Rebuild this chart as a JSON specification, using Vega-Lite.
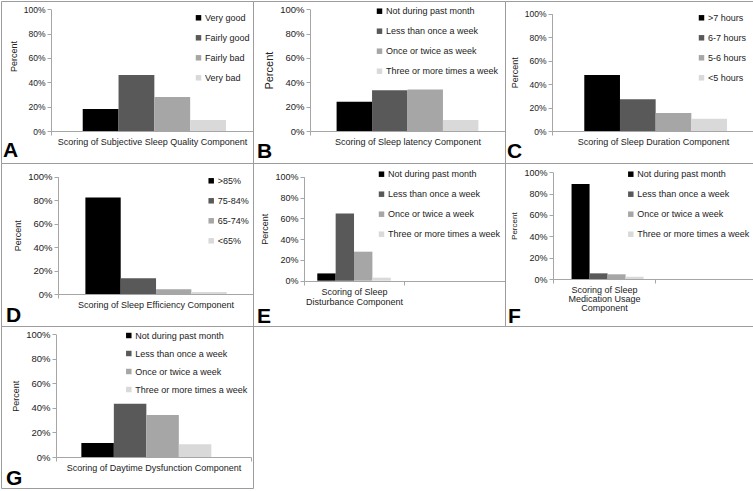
{
  "$schema": "https://vega.github.io/schema/vega-lite/v6.json",
  "padding": 0,
  "spacing": 0,
  "bounds": "flush",
  "columns": 3,
  "background": "white",
  "data": {"values": [
    {"panel": "A", "cat": "Scoring of Subjective Sleep Quality Component", "level": "Very good", "pct": 0.18},
    {"panel": "A", "cat": "Scoring of Subjective Sleep Quality Component", "level": "Fairly good", "pct": 0.46},
    {"panel": "A", "cat": "Scoring of Subjective Sleep Quality Component", "level": "Fairly bad", "pct": 0.28},
    {"panel": "A", "cat": "Scoring of Subjective Sleep Quality Component", "level": "Very bad", "pct": 0.09},
    {"panel": "B", "cat": "Scoring of Sleep latency Component", "level": "Not during past month", "pct": 0.24},
    {"panel": "B", "cat": "Scoring of Sleep latency Component", "level": "Less than once a week", "pct": 0.335},
    {"panel": "B", "cat": "Scoring of Sleep latency Component", "level": "Once or twice as week", "pct": 0.342},
    {"panel": "B", "cat": "Scoring of Sleep latency Component", "level": "Three or more times a week", "pct": 0.09},
    {"panel": "C", "cat": "Scoring of Sleep Duration Component", "level": ">7 hours", "pct": 0.477},
    {"panel": "C", "cat": "Scoring of Sleep Duration Component", "level": "6-7 hours", "pct": 0.27},
    {"panel": "C", "cat": "Scoring of Sleep Duration Component", "level": "5-6 hours", "pct": 0.153},
    {"panel": "C", "cat": "Scoring of Sleep Duration Component", "level": "<5 hours", "pct": 0.105},
    {"panel": "D", "cat": "Scoring of Sleep Efficiency Component", "level": ">85%", "pct": 0.822},
    {"panel": "D", "cat": "Scoring of Sleep Efficiency Component", "level": "75-84%", "pct": 0.134},
    {"panel": "D", "cat": "Scoring of Sleep Efficiency Component", "level": "65-74%", "pct": 0.04},
    {"panel": "D", "cat": "Scoring of Sleep Efficiency Component", "level": "<65%", "pct": 0.017},
    {"panel": "E", "cat": "Scoring of Sleep|Disturbance Component", "level": "Not during past month", "pct": 0.07},
    {"panel": "E", "cat": "Scoring of Sleep|Disturbance Component", "level": "Less than once a week", "pct": 0.647},
    {"panel": "E", "cat": "Scoring of Sleep|Disturbance Component", "level": "Once or twice a week", "pct": 0.279},
    {"panel": "E", "cat": "Scoring of Sleep|Disturbance Component", "level": "Three or more times a week", "pct": 0.029},
    {"panel": "F", "cat": "Scoring of Sleep|Medication Usage|Component", "level": "Not during past month", "pct": 0.89},
    {"panel": "F", "cat": "Scoring of Sleep|Medication Usage|Component", "level": "Less than once a week", "pct": 0.053},
    {"panel": "F", "cat": "Scoring of Sleep|Medication Usage|Component", "level": "Once or twice a week", "pct": 0.044},
    {"panel": "F", "cat": "Scoring of Sleep|Medication Usage|Component", "level": "Three or more times a week", "pct": 0.022},
    {"panel": "G", "cat": "Scoring of Daytime Dysfunction Component", "level": "Not during past month", "pct": 0.114},
    {"panel": "G", "cat": "Scoring of Daytime Dysfunction Component", "level": "Less than once a week", "pct": 0.435},
    {"panel": "G", "cat": "Scoring of Daytime Dysfunction Component", "level": "Once or twice a week", "pct": 0.342},
    {"panel": "G", "cat": "Scoring of Daytime Dysfunction Component", "level": "Three or more times a week", "pct": 0.103}
  ]},
  "resolve": {
    "scale": {"x": "independent", "y": "independent", "color": "independent", "xOffset": "independent"},
    "axis": {"x": "independent", "y": "independent"},
    "legend": {"color": "independent"}
  },
  "concat": [
    {
      "width": 252, "height": 162,
      "transform": [{"filter": "datum.panel == 'A'"}],
      "title": {"text": "A", "orient": "bottom", "anchor": "start", "offset": -6, "dx": 2, "baseline": "alphabetic", "fontSize": 21, "fontWeight": "bold", "color": "#000"},
      "mark": {"type": "bar"},
      "encoding": {
        "x": {"field": "cat", "type": "nominal", "scale": {"range": [50, 252], "paddingInner": 0, "paddingOuter": 0},
              "axis": {"offset": -32, "title": null, "labelAngle": 0, "tickBand": "extent", "labelExpr": "isValid(datum.value) && datum.value != 'blank' ? split(datum.value, '|') : ''", "labelLimit": 0, "labelFontSize": 9}},
        "xOffset": {"field": "level", "type": "nominal", "sort": null, "scale": {"paddingInner": 0, "paddingOuter": 0.82, "align": 0.54}},
        "y": {"field": "pct", "type": "quantitative", "scale": {"domain": [0, 1], "range": [130, 8.3]},
              "axis": {"offset": -50, "title": "Percent", "titleY": 55, "values": [0, 0.2, 0.4, 0.6, 0.8, 1], "format": ".0%", "labelFontSize": 8.5, "titleFontSize": 9}},
        "color": {"field": "level", "type": "nominal", "sort": null, "scale": {"range": ["#000000", "#595959", "#a6a6a6", "#d9d9d9"]},
                  "legend": {"title": null, "orient": "none", "legendX": 193, "legendY": 12.3}}
      }
    },
    {
      "width": 252, "height": 162,
      "transform": [{"filter": "datum.panel == 'B'"}],
      "title": {"text": "B", "orient": "bottom", "anchor": "start", "offset": -5, "dx": 4, "baseline": "alphabetic", "fontSize": 21, "fontWeight": "bold", "color": "#000"},
      "mark": {"type": "bar"},
      "encoding": {
        "x": {"field": "cat", "type": "nominal", "scale": {"range": [57, 252], "paddingInner": 0, "paddingOuter": 0},
              "axis": {"offset": -32, "title": null, "labelAngle": 0, "tickBand": "extent", "labelExpr": "isValid(datum.value) && datum.value != 'blank' ? split(datum.value, '|') : ''", "labelLimit": 0, "labelFontSize": 9}},
        "xOffset": {"field": "level", "type": "nominal", "sort": null, "scale": {"paddingInner": 0, "paddingOuter": 0.75, "align": 0.5}},
        "y": {"field": "pct", "type": "quantitative", "scale": {"domain": [0, 1], "range": [130, 8.3]},
              "axis": {"offset": -57, "title": "Percent", "values": [0, 0.2, 0.4, 0.6, 0.8, 1], "format": ".0%", "labelFontSize": 9.5, "titleFontSize": 11}},
        "color": {"field": "level", "type": "nominal", "sort": null, "scale": {"range": ["#000000", "#595959", "#a6a6a6", "#d9d9d9"]},
                  "legend": {"title": null, "orient": "none", "legendX": 122, "legendY": 5.7}}
      }
    },
    {
      "width": 249, "height": 162,
      "transform": [{"filter": "datum.panel == 'C'"}],
      "title": {"text": "C", "orient": "bottom", "anchor": "start", "offset": -5, "dx": 2, "baseline": "alphabetic", "fontSize": 21, "fontWeight": "bold", "color": "#000"},
      "mark": {"type": "bar"},
      "encoding": {
        "x": {"field": "cat", "type": "nominal", "scale": {"range": [47, 249], "paddingInner": 0, "paddingOuter": 0},
              "axis": {"offset": -32, "title": null, "labelAngle": 0, "tickBand": "extent", "labelExpr": "isValid(datum.value) && datum.value != 'blank' ? split(datum.value, '|') : ''", "labelLimit": 0, "labelFontSize": 9}},
        "xOffset": {"field": "level", "type": "nominal", "sort": null, "scale": {"paddingInner": 0, "paddingOuter": 0.83, "align": 0.545}},
        "y": {"field": "pct", "type": "quantitative", "scale": {"domain": [0, 1], "range": [130, 12.7]},
              "axis": {"offset": -47, "title": "Percent", "values": [0, 0.2, 0.4, 0.6, 0.8, 1], "format": ".0%", "labelFontSize": 8.5, "titleFontSize": 9}},
        "color": {"field": "level", "type": "nominal", "sort": null, "scale": {"range": ["#000000", "#595959", "#a6a6a6", "#d9d9d9"]},
                  "legend": {"title": null, "orient": "none", "legendX": 192, "legendY": 12.3}}
      }
    },
    {
      "width": 252, "height": 163,
      "transform": [{"filter": "datum.panel == 'D'"}],
      "title": {"text": "D", "orient": "bottom", "anchor": "start", "offset": -4, "dx": 5, "baseline": "alphabetic", "fontSize": 21, "fontWeight": "bold", "color": "#000"},
      "mark": {"type": "bar"},
      "encoding": {
        "x": {"field": "cat", "type": "nominal", "scale": {"range": [57, 252], "paddingInner": 0, "paddingOuter": 0},
              "axis": {"offset": -32, "title": null, "labelAngle": 0, "tickBand": "extent", "labelExpr": "isValid(datum.value) && datum.value != 'blank' ? split(datum.value, '|') : ''", "labelLimit": 0, "labelFontSize": 9}},
        "xOffset": {"field": "level", "type": "nominal", "sort": null, "scale": {"paddingInner": 0, "paddingOuter": 0.76, "align": 0.51}},
        "y": {"field": "pct", "type": "quantitative", "scale": {"domain": [0, 1], "range": [131, 13.7]},
              "axis": {"offset": -57, "title": "Percent", "values": [0, 0.2, 0.4, 0.6, 0.8, 1], "format": ".0%", "labelFontSize": 9.5, "titleFontSize": 9}},
        "color": {"field": "level", "type": "nominal", "sort": null, "scale": {"range": ["#000000", "#595959", "#a6a6a6", "#d9d9d9"]},
                  "legend": {"title": null, "orient": "none", "legendX": 205.7, "legendY": 13.3}}
      }
    },
    {
      "width": 252, "height": 163,
      "transform": [{"filter": "datum.panel == 'E'"}],
      "title": {"text": "E", "orient": "bottom", "anchor": "start", "offset": -3, "dx": 4, "baseline": "alphabetic", "fontSize": 21, "fontWeight": "bold", "color": "#000"},
      "mark": {"type": "bar"},
      "encoding": {
        "x": {"field": "cat", "type": "nominal", "scale": {"domain": ["Scoring of Sleep|Disturbance Component", "blank"], "range": [50.7, 252], "paddingInner": 0, "paddingOuter": 0},
              "axis": {"offset": -45, "title": null, "labelAngle": 0, "tickBand": "extent", "labelExpr": "isValid(datum.value) && datum.value != 'blank' ? split(datum.value, '|') : ''", "labelLimit": 0, "labelFontSize": 9, "labelLineHeight": 10}},
        "xOffset": {"field": "level", "type": "nominal", "sort": null, "scale": {"paddingInner": 0, "paddingOuter": 0.74, "align": 0.5}},
        "y": {"field": "pct", "type": "quantitative", "scale": {"domain": [0, 1], "range": [117.7, 13.7]},
              "axis": {"offset": -51, "title": "Percent", "values": [0, 0.2, 0.4, 0.6, 0.8, 1], "format": ".0%", "labelFontSize": 9, "titleFontSize": 9}},
        "color": {"field": "level", "type": "nominal", "sort": null, "scale": {"range": ["#000000", "#595959", "#a6a6a6", "#d9d9d9"]},
                  "legend": {"title": null, "orient": "none", "legendX": 124, "legendY": 6.7}}
      }
    },
    {
      "width": 249, "height": 163,
      "transform": [{"filter": "datum.panel == 'F'"}],
      "title": {"text": "F", "orient": "bottom", "anchor": "start", "offset": -3, "dx": 3, "baseline": "alphabetic", "fontSize": 21, "fontWeight": "bold", "color": "#000"},
      "mark": {"type": "bar"},
      "encoding": {
        "x": {"field": "cat", "type": "nominal", "scale": {"domain": ["Scoring of Sleep|Medication Usage|Component", "blank"], "range": [48, 252], "paddingInner": 0, "paddingOuter": 0},
              "axis": {"offset": -47, "title": null, "labelAngle": 0, "tickBand": "extent", "labelExpr": "isValid(datum.value) && datum.value != 'blank' ? split(datum.value, '|') : ''", "labelLimit": 0, "labelFontSize": 9, "labelLineHeight": 9.3}},
        "xOffset": {"field": "level", "type": "nominal", "sort": null, "scale": {"paddingInner": 0, "paddingOuter": 0.83, "align": 0.62}},
        "y": {"field": "pct", "type": "quantitative", "scale": {"domain": [0, 1], "range": [116, 9.3]},
              "axis": {"offset": -48, "title": "Percent", "values": [0, 0.2, 0.4, 0.6, 0.8, 1], "format": ".0%", "labelFontSize": 9, "titleFontSize": 8}},
        "color": {"field": "level", "type": "nominal", "sort": null, "scale": {"range": ["#000000", "#595959", "#a6a6a6", "#d9d9d9"]},
                  "legend": {"title": null, "orient": "none", "legendX": 121.3, "legendY": 6.7}}
      }
    },
    {
      "width": 252, "height": 162,
      "transform": [{"filter": "datum.panel == 'G'"}],
      "title": {"text": "G", "orient": "bottom", "anchor": "start", "offset": -3, "dx": 5, "baseline": "alphabetic", "fontSize": 21, "fontWeight": "bold", "color": "#000"},
      "mark": {"type": "bar"},
      "encoding": {
        "x": {"field": "cat", "type": "nominal", "scale": {"range": [55, 250], "paddingInner": 0, "paddingOuter": 0},
              "axis": {"offset": -31, "title": null, "labelAngle": 0, "tickBand": "extent", "labelExpr": "isValid(datum.value) && datum.value != 'blank' ? split(datum.value, '|') : ''", "labelLimit": 0, "labelFontSize": 9}},
        "xOffset": {"field": "level", "type": "nominal", "sort": null, "scale": {"paddingInner": 0, "paddingOuter": 1.03, "align": 0.39}},
        "y": {"field": "pct", "type": "quantitative", "scale": {"domain": [0, 1], "range": [131, 8.3]},
              "axis": {"offset": -55, "title": "Percent", "values": [0, 0.2, 0.4, 0.6, 0.8, 1], "format": ".0%", "labelFontSize": 9.5, "titleFontSize": 9}},
        "color": {"field": "level", "type": "nominal", "sort": null, "scale": {"range": ["#000000", "#595959", "#a6a6a6", "#d9d9d9"]},
                  "legend": {"title": null, "orient": "none", "legendX": 123.3, "legendY": 5, "rowPadding": 8}}
      }
    }
  ],
  "config": {
    "font": "Liberation Sans",
    "view": {"stroke": "#9c9c9c", "strokeWidth": 1},
    "axis": {"grid": false, "domainColor": "#a6a6a6", "tickColor": "#a6a6a6", "labelColor": "#222", "titleColor": "#222", "titleFontWeight": "normal", "tickSize": 4, "labelPadding": 2, "titlePadding": 5},
    "legend": {"symbolType": "square", "symbolSize": 30, "labelFontSize": 9, "labelColor": "#222", "rowPadding": 10, "padding": 0, "labelOffset": 2, "labelLimit": 0, "symbolStrokeWidth": 0}
  }
}
